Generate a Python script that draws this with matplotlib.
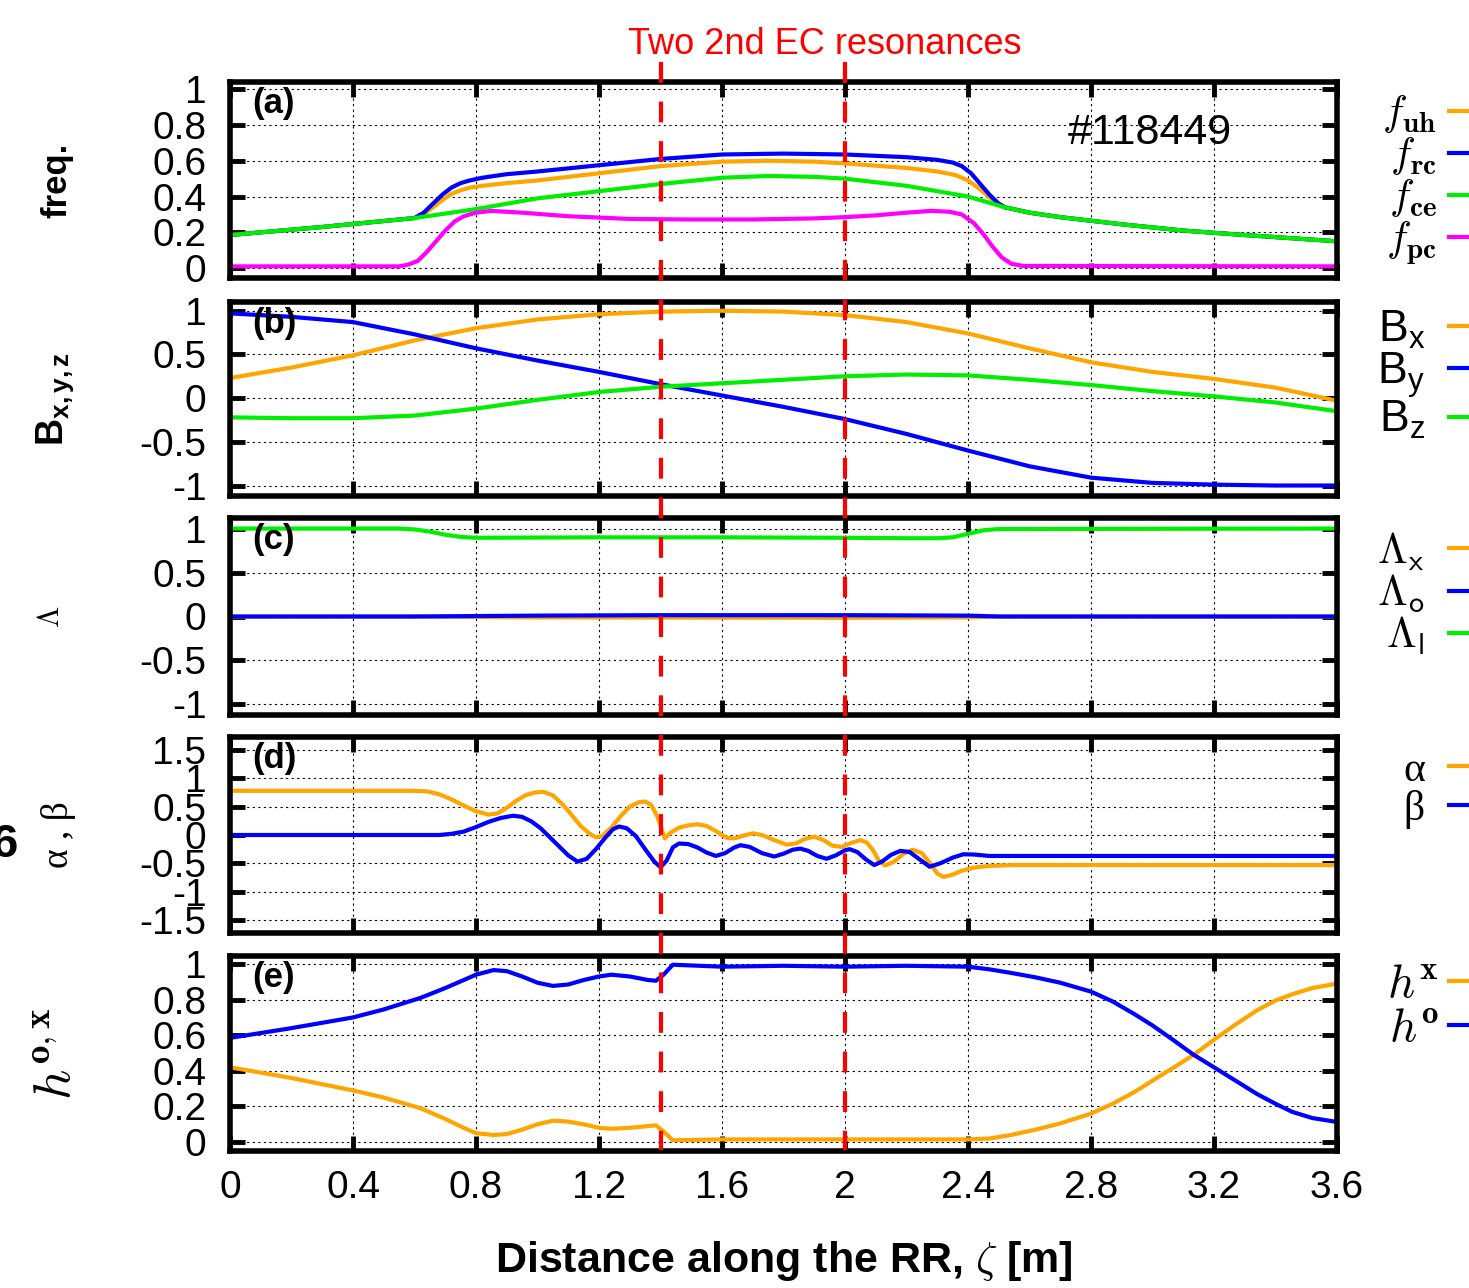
import matplotlib
matplotlib.use('Agg')
import matplotlib.pyplot as plt
import matplotlib.transforms as mtransforms
from matplotlib.ticker import FuncFormatter

plt.rcParams['font.family'] = ['Liberation Sans', 'DejaVu Sans']
plt.rcParams['axes.unicode_minus'] = False
plt.rcParams['mathtext.fontset'] = 'custom'
plt.rcParams['mathtext.rm'] = 'Liberation Sans'
plt.rcParams['mathtext.it'] = 'Liberation Sans:italic'
plt.rcParams['mathtext.bf'] = 'Liberation Sans:bold'
plt.rcParams['mathtext.sf'] = 'Liberation Sans'

ORANGE = '#FFA500'
BLUE = '#0000FF'
GREEN = '#00EE00'
MAGENTA = '#FF00FF'

# =============================
# DATA
# =============================
x_ticks = [0, 0.4, 0.8, 1.2, 1.6, 2.0, 2.4, 2.8, 3.2, 3.6]
x_ticklabels = ['0', '0.4', '0.8', '1.2', '1.6', '2', '2.4', '2.8', '3.2', '3.6']
resonance_x = [1.4, 2.0]

# (a) frequencies
fuh_x = [0, 0.3, 0.6, 0.63, 0.66, 0.69, 0.72, 0.75, 0.78, 0.82, 0.9, 1.0, 1.2, 1.4, 1.6, 1.75,
         1.9, 2.0, 2.2, 2.3, 2.36, 2.4, 2.44, 2.48, 2.52, 2.6, 2.7, 2.9, 3.1, 3.3, 3.6]
fuh_y = [0.185, 0.23, 0.28, 0.30, 0.34, 0.38, 0.415, 0.435, 0.45, 0.46, 0.475, 0.49, 0.53, 0.57,
         0.595, 0.60, 0.595, 0.585, 0.56, 0.54, 0.52, 0.49, 0.44, 0.38, 0.34, 0.31, 0.285, 0.245,
         0.21, 0.185, 0.15]
frc_x = [0, 0.3, 0.6, 0.63, 0.66, 0.69, 0.72, 0.75, 0.78, 0.82, 0.9, 1.0, 1.2, 1.4, 1.6, 1.8,
         2.0, 2.2, 2.3, 2.35, 2.38, 2.41, 2.44, 2.47, 2.5, 2.52, 2.6, 2.7, 2.9, 3.1, 3.3, 3.6]
frc_y = [0.185, 0.23, 0.28, 0.31, 0.36, 0.41, 0.45, 0.475, 0.49, 0.505, 0.525, 0.54, 0.575,
         0.61, 0.635, 0.64, 0.635, 0.62, 0.605, 0.59, 0.57, 0.53, 0.47, 0.41, 0.36, 0.34, 0.31,
         0.285, 0.245, 0.21, 0.185, 0.15]
fce_x = [0, 0.3, 0.6, 0.8, 1.0, 1.2, 1.4, 1.6, 1.75, 1.9, 2.0, 2.2, 2.4, 2.52, 2.6, 2.7, 2.9,
         3.1, 3.3, 3.6]
fce_y = [0.185, 0.23, 0.28, 0.33, 0.39, 0.43, 0.47, 0.505, 0.515, 0.51, 0.50, 0.46, 0.40, 0.34,
         0.31, 0.285, 0.245, 0.21, 0.185, 0.15]
fpc_x = [0, 0.55, 0.58, 0.61, 0.64, 0.67, 0.70, 0.73, 0.76, 0.8, 0.85, 0.95, 1.1, 1.3, 1.5, 1.7,
         1.9, 2.0, 2.1, 2.2, 2.28, 2.34, 2.38, 2.42, 2.45, 2.48, 2.51, 2.54, 2.58, 3.6]
fpc_y = [0.01, 0.01, 0.02, 0.04, 0.09, 0.15, 0.21, 0.26, 0.29, 0.31, 0.32, 0.31, 0.29, 0.275,
         0.272, 0.272, 0.278, 0.285, 0.295, 0.31, 0.32, 0.315, 0.30, 0.25, 0.19, 0.12, 0.06, 0.025,
         0.012, 0.01]

# (b) field components
b_x = [0, 0.2, 0.4, 0.6, 0.8, 1.0, 1.2, 1.4, 1.6, 1.8, 2.0, 2.2, 2.4, 2.6, 2.8, 3.0, 3.2, 3.4, 3.6]
bx_y = [0.23, 0.35, 0.49, 0.66, 0.80, 0.90, 0.96, 0.99, 1.0, 0.99, 0.95, 0.87, 0.74, 0.57, 0.41,
        0.30, 0.22, 0.12, -0.03]
by_y = [0.97, 0.93, 0.87, 0.73, 0.57, 0.43, 0.30, 0.16, 0.03, -0.10, -0.24, -0.41, -0.60, -0.78,
        -0.91, -0.97, -0.99, -1.0, -1.0]
bz_y = [-0.22, -0.23, -0.23, -0.20, -0.12, -0.02, 0.07, 0.13, 0.17, 0.21, 0.25, 0.27, 0.26, 0.21,
        0.15, 0.08, 0.02, -0.05, -0.15]

# (c) polarisation
lamx_x = [0, 0.6, 1.0, 2.0, 2.4, 2.5, 3.6]
lamx_y = [0, 0, -0.01, -0.015, -0.01, 0, 0]
lamo_x = [0, 0.6, 1.0, 1.4, 2.0, 2.4, 2.5, 3.6]
lamo_y = [0, 0, 0.01, 0.015, 0.015, 0.01, 0, 0]
laml_x = [0, 0.55, 0.6, 0.65, 0.7, 0.75, 0.8, 1.2, 1.6, 2.0, 2.2, 2.3, 2.35, 2.4, 2.45, 2.5, 3.6]
laml_y = [1.0, 1.0, 0.99, 0.965, 0.93, 0.905, 0.895, 0.9, 0.9, 0.895, 0.89, 0.89, 0.9, 0.94,
          0.98, 0.995, 1.0]

# (d) alpha, beta
alpha_x = [0, 0.6, 0.64, 0.68, 0.72, 0.76, 0.80, 0.84, 0.87, 0.90, 0.93, 0.96, 0.99, 1.02, 1.05,
           1.08, 1.11, 1.14, 1.17, 1.19, 1.21, 1.24, 1.27, 1.30, 1.33, 1.35, 1.37, 1.39, 1.414,
           1.43, 1.46, 1.49, 1.52, 1.55, 1.58, 1.615, 1.64, 1.67, 1.70, 1.73, 1.77, 1.81, 1.84,
           1.87, 1.90, 1.93, 1.96, 1.99, 2.02, 2.05, 2.07, 2.09, 2.11, 2.13, 2.16, 2.19, 2.22,
           2.25, 2.28, 2.30, 2.32, 2.35, 2.38, 2.42, 2.47, 2.55, 3.6]
alpha_y = [0.78, 0.78, 0.77, 0.72, 0.63, 0.52, 0.42, 0.36, 0.38, 0.48, 0.60, 0.70, 0.75, 0.76,
           0.70, 0.55, 0.36, 0.16, 0.02, -0.04, -0.02, 0.13, 0.33, 0.50, 0.58, 0.59, 0.53, 0.32,
           -0.06, 0.03, 0.13, 0.17, 0.19, 0.16, 0.07, -0.05, -0.06, -0.01, 0.03, 0.0, -0.09,
           -0.17, -0.15, -0.07, -0.03, -0.09, -0.19, -0.21, -0.14, -0.09, -0.13, -0.26, -0.45,
           -0.54, -0.47, -0.33, -0.26, -0.32, -0.52, -0.68, -0.74, -0.70, -0.63, -0.575, -0.545,
           -0.53, -0.53]
beta_x = [0, 0.68, 0.72, 0.76, 0.80, 0.84, 0.88, 0.92, 0.95, 0.98, 1.01, 1.04, 1.07, 1.10, 1.13,
          1.16, 1.19, 1.22, 1.245, 1.265, 1.29, 1.32, 1.35, 1.38, 1.40, 1.42, 1.44, 1.46, 1.49,
          1.52, 1.55, 1.58, 1.61, 1.64, 1.66, 1.69, 1.73, 1.77, 1.80, 1.83, 1.855, 1.88, 1.91,
          1.94, 1.97, 2.0, 2.015, 2.04, 2.07, 2.095, 2.12, 2.15, 2.18, 2.21, 2.24, 2.275, 2.31,
          2.35, 2.385, 2.42, 2.47, 2.6, 3.6]
beta_y = [0, 0, 0.02, 0.06, 0.14, 0.23, 0.30, 0.34, 0.32, 0.24, 0.12, -0.04, -0.20, -0.36, -0.47,
          -0.42, -0.25, -0.05, 0.10, 0.15, 0.12, -0.02, -0.25, -0.47, -0.57, -0.45, -0.22, -0.15,
          -0.16, -0.22, -0.31, -0.37, -0.32, -0.22, -0.18, -0.21, -0.32, -0.38, -0.33, -0.26,
          -0.24, -0.28, -0.37, -0.42, -0.36, -0.27, -0.25, -0.30, -0.44, -0.53, -0.47, -0.35,
          -0.28, -0.30, -0.42, -0.56, -0.50, -0.40, -0.34, -0.345, -0.37, -0.37, -0.37]

# (e) mode content
h_x = [0, 0.2, 0.4, 0.5, 0.62, 0.7, 0.76, 0.8, 0.857, 0.9, 0.95, 1.0, 1.05, 1.1, 1.15, 1.2, 1.24,
       1.3, 1.36, 1.385, 1.41, 1.44, 1.6, 1.8, 2.0, 2.2, 2.4, 2.47, 2.54, 2.62, 2.7, 2.8, 2.87,
       2.94, 3.0, 3.07, 3.134, 3.2, 3.27, 3.34, 3.4, 3.454, 3.52, 3.6]
hx_y = [0.42, 0.36, 0.29, 0.25, 0.19, 0.13, 0.08, 0.05, 0.04, 0.045, 0.07, 0.10, 0.12, 0.115,
        0.10, 0.08, 0.075, 0.08, 0.09, 0.094, 0.06, 0.01, 0.015, 0.015, 0.015, 0.015, 0.015,
        0.02, 0.04, 0.07, 0.105, 0.16, 0.215, 0.28, 0.345, 0.42, 0.49, 0.575, 0.66, 0.74, 0.795,
        0.83, 0.865, 0.89]
ho_y = [0.585, 0.64, 0.70, 0.745, 0.81, 0.865, 0.91, 0.94, 0.966, 0.96, 0.93, 0.895, 0.877,
        0.885, 0.91, 0.93, 0.94, 0.93, 0.91, 0.906, 0.94, 0.996, 0.985, 0.99, 0.985, 0.99, 0.985,
        0.97, 0.95, 0.925, 0.895, 0.845, 0.79, 0.72, 0.655, 0.57, 0.49, 0.42, 0.345, 0.27, 0.215,
        0.17, 0.135, 0.113]

# =============================
# FIGURE
# =============================
W, H = 1469, 1288
fig = plt.figure(figsize=(W / 100, H / 100), dpi=100)

# (top px, bottom px) of each panel frame
frames = [(82, 278), (302, 496), (518, 715), (737, 933), (956, 1151)]
x_left, x_right = 230, 1337
axes = []
for top, bot in frames:
    ax = fig.add_axes([x_left / W, 1 - bot / H, (x_right - x_left) / W, (bot - top) / H])
    axes.append(ax)
ax_a, ax_b, ax_c, ax_d, ax_e = axes

lw = 3.0


def style_panel(ax, ylim, yticks, tag):
    ax.set_xlim(0, 3.6)
    ax.set_ylim(*ylim)
    ax.set_xticks(x_ticks)
    ax.set_yticks(yticks)
    ax.yaxis.set_major_formatter(FuncFormatter(lambda v, p: '%g' % v))
    ax.tick_params(direction='in', length=11, width=3.5, top=True, right=True,
                   labelsize=28)
    ax.tick_params(axis='y', pad=17)
    ax.tick_params(axis='x', pad=14)
    for s in ax.spines.values():
        s.set_linewidth(4)
    ax.grid(True, color='black', lw=0.8, linestyle=(0, (2, 3)))
    ax.set_axisbelow(True)
    ax.text(0.02, 0.975, tag, transform=ax.transAxes, fontsize=25, fontweight='bold',
            va='top', ha='left')
    if ax is not ax_e:
        ax.tick_params(labelbottom=False)


style_panel(ax_a, (-0.055, 1.04), [0, 0.2, 0.4, 0.6, 0.8, 1.0], '(a)')
style_panel(ax_b, (-1.12, 1.1), [-1, -0.5, 0, 0.5, 1], '(b)')
style_panel(ax_c, (-1.12, 1.12), [-1, -0.5, 0, 0.5, 1], '(c)')
style_panel(ax_d, (-1.73, 1.73), [-1.5, -1, -0.5, 0, 0.5, 1, 1.5], '(d)')
style_panel(ax_e, (-0.05, 1.045), [0, 0.2, 0.4, 0.6, 0.8, 1.0], '(e)')
ax_e.set_xticklabels(x_ticklabels)

# curves
ax_a.plot(fuh_x, fuh_y, color=ORANGE, lw=lw, label=r'$f_{\mathbf{uh}}$')
ax_a.plot(frc_x, frc_y, color=BLUE, lw=lw, label=r'$f_{\mathbf{rc}}$')
ax_a.plot(fce_x, fce_y, color=GREEN, lw=lw, label=r'$f_{\mathbf{ce}}$')
ax_a.plot(fpc_x, fpc_y, color=MAGENTA, lw=lw, label=r'$f_{\mathbf{pc}}$')

ax_b.plot(b_x, bx_y, color=ORANGE, lw=lw, label=r'B$_\mathrm{x}$')
ax_b.plot(b_x, by_y, color=BLUE, lw=lw, label=r'B$_\mathrm{y}$')
ax_b.plot(b_x, bz_y, color=GREEN, lw=lw, label=r'B$_\mathrm{z}$')

ax_c.plot(lamx_x, lamx_y, color=ORANGE, lw=lw, label=r'$\Lambda_\mathsf{x}$')
ax_c.plot(lamo_x, lamo_y, color=BLUE, lw=lw, label=r'$\Lambda_\mathsf{o}$')
ax_c.plot(laml_x, laml_y, color=GREEN, lw=lw, label=r'$\Lambda_\mathsf{l}$')

ax_d.plot(alpha_x, alpha_y, color=ORANGE, lw=lw, label='α')
ax_d.plot(beta_x, beta_y, color=BLUE, lw=lw, label='β')

ax_e.plot(h_x, hx_y, color=ORANGE, lw=lw, label=r'$h^{\mathbf{x}}$')
ax_e.plot(h_x, ho_y, color=BLUE, lw=lw, label=r'$h^{\mathbf{o}}$')

# keys on the right: text right-aligned before the sample line
key_specs = [
    (ax_a, 180, 30, 'Liberation Sans', 'cm', 0.0, 12),
    (ax_b, 375, 32, 'Liberation Sans', None, -0.02, 24),
    (ax_c, 594, 31, 'Liberation Sans', 'cm', 0.0, 24),
    (ax_d, 790, 30, 'Liberation Serif', None, 0.0, 24),
    (ax_e, 1008, 34, 'Liberation Sans', 'cm', 0.0, 10),
]
for ax, yc, fs, fam, mf, spacing, gap in key_specs:
    fs_px = fs * 100 / 72
    leg = ax.legend(loc='center right', bbox_to_anchor=(1490 / W, 1 - yc / H),
                    bbox_transform=fig.transFigure, frameon=False, markerfirst=False,
                    prop={'family': fam, 'size': fs}, handlelength=41 / fs_px,
                    handletextpad=gap / fs_px, borderpad=0, borderaxespad=0,
                    labelspacing=spacing)
    if mf:
        for t in leg.get_texts():
            t.set_math_fontfamily(mf)

# y labels (anchored at their right-hand side)
ax_a.set_ylabel('freq.', fontsize=25, fontweight='bold')
ax_b.set_ylabel(r'$\mathbf{B_{x,y,z}}$', fontsize=27)
ax_c.set_ylabel(r'$\Lambda$', fontsize=22, math_fontfamily='cm')
ax_d.set_ylabel('α , β', fontsize=27, family='Liberation Serif')
ax_e.set_ylabel(r'$h^{\mathbf{o,x}}$', fontsize=38, math_fontfamily='cm')
for ax, right_px in zip(axes, [73, 76, 66, 76, 82]):
    ax.yaxis.set_label_coords((right_px - x_left) / (x_right - x_left), 0.5)

ax_e.set_xlabel(r'Distance along the RR, $\zeta$ [m]', fontsize=31, fontweight='bold',
                math_fontfamily='cm')
ax_e.xaxis.set_label_coords(0.5, -0.45)

ax_a.text(0.757, 0.74, '#118449', transform=ax_a.transAxes, fontsize=31, va='center')

# resonance positions: dashed red lines through all panels
blend = mtransforms.blended_transform_factory(ax_e.transData, fig.transFigure)
for xr in resonance_x:
    ax_e.plot([xr, xr], [1 - 62 / H, 1 - 1150 / H], transform=blend, clip_on=False,
              color='red', lw=3, linestyle=(0, (5, 4.5)), zorder=6)

fig.text(825 / W, 1 - 45 / H, 'Two 2nd EC resonances', color='red', fontsize=26,
         ha='center', va='center')
fig.text(18 / W, 1 - 845 / H, '6', fontsize=34, fontweight='bold', ha='right', va='center')

fig.savefig('out.png', dpi=100)
